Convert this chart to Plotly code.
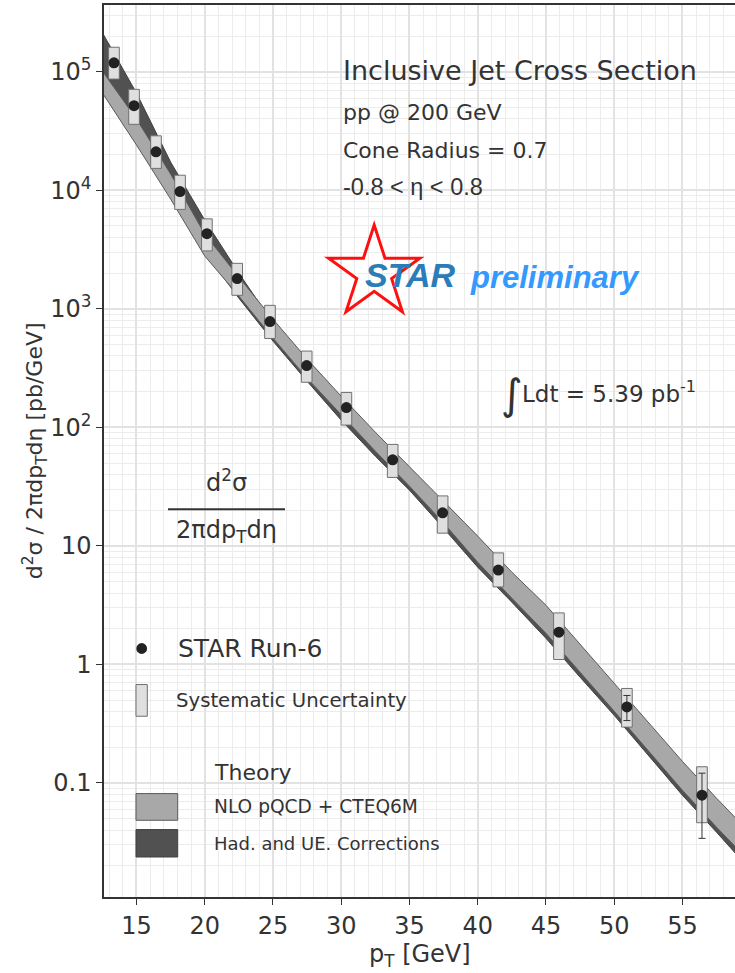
import math
import plotly.graph_objects as go

# ---------------- data ----------------
pt = [13.35, 14.82, 16.43, 18.19, 20.16, 22.38, 24.78, 27.47, 30.38, 33.77, 37.43, 41.51, 45.95, 50.93, 56.43]
xsec = [1.19e5, 5.17e4, 2.11e4, 9750, 4300, 1800, 781, 332, 147, 53.2, 19.0, 6.25, 1.87, 0.438, 0.0789]
stat_up = [2400, 1000, 420, 200, 90, 38, 17, 7.5, 3.5, 1.4, 0.55, 0.2, 0.12, 0.109, 0.042]
stat_dn = [2400, 1000, 420, 200, 90, 38, 17, 7.5, 3.5, 1.4, 0.55, 0.2, 0.12, 0.102, 0.0448]
sys_hi = [1.61e5, 7.10e4, 2.88e4, 1.34e4, 5740, 2420, 1070, 440, 197, 71.8, 26.4, 8.73, 2.72, 0.627, 0.137]
sys_lo = [8.67e4, 3.60e4, 1.53e4, 6900, 3080, 1300, 562, 240, 104.5, 37.8, 12.8, 4.51, 1.10, 0.296, 0.0462]

theory_pt = [12.6, 15, 17.5, 20, 22.5, 25, 27.5, 30, 32.5, 35, 37.5, 40, 42.5, 45, 47.5, 50, 52.5, 55, 57.5, 59.2]
nlo_hi = [9.75e4, 3.99e4, 1.37e4, 4270, 1850, 818, 377, 183, 91.0, 46.1, 23.8, 12.1, 6.00, 3.16, 1.48, 0.694, 0.325, 0.152, 0.0743, 0.0466]
nlo_lo = [6.36e4, 2.41e4, 8430, 2790, 1280, 566, 260, 127, 63.0, 31.9, 15.6, 7.28, 3.62, 1.83, 0.859, 0.403, 0.189, 0.0867, 0.0423, 0.0265]
corr_hi = [2.04e5, 6.61e4, 1.73e4, 5610, 2000, 757, 348, 170, 84.3, 42.7, 22.0, 11.2, 5.55, 2.92, 1.37, 0.643, 0.301, 0.141, 0.0687, 0.0431]
corr_lo = [6.87e4, 2.60e4, 9100, 3010, 1230, 534, 245, 115, 57.1, 29.5, 14.1, 6.61, 3.35, 1.66, 0.780, 0.372, 0.171, 0.0787, 0.0384, 0.0232]

x_ticks = [15, 20, 25, 30, 35, 40, 45, 50, 55]
y_tickvals = [0.1, 1, 10, 100, 1e3, 1e4, 1e5]
y_ticktext = ["0.1", "1", "10", "10<sup>2</sup>", "10<sup>3</sup>", "10<sup>4</sup>", "10<sup>5</sup>"]

# ---------------- layout constants ----------------
W, H = 735, 973
ML, MT, MB, MR = 104, 5, 76.3, 0
PW = W - ML - MR
PH = H - MT - MB
FONT = "DejaVu Sans"
TXT = "#333333"
BOX_HW = 0.39


def px(x):
    return (x - ML) / PW


def py(y):
    return (H - MB - y) / PH


fig = go.Figure()

# theory bands
band_x = theory_pt + theory_pt[::-1]
fig.add_trace(go.Scatter(x=band_x, y=corr_hi + corr_lo[::-1], mode="lines", fill="toself",
                         fillcolor="#515151", line=dict(color="#404040", width=1),
                         hoverinfo="skip", showlegend=False))
fig.add_trace(go.Scatter(x=band_x, y=nlo_hi + nlo_lo[::-1], mode="lines", fill="toself",
                         fillcolor="#a8a8a8", line=dict(color="#5a5a5a", width=1),
                         hoverinfo="skip", showlegend=False))

# systematic boxes
bx, by = [], []
for p, lo, hi in zip(pt, sys_lo, sys_hi):
    bx += [p - BOX_HW, p + BOX_HW, p + BOX_HW, p - BOX_HW, p - BOX_HW, None]
    by += [lo, lo, hi, hi, lo, None]
fig.add_trace(go.Scatter(x=bx, y=by, mode="lines", fill="toself", fillcolor="#dfdfdf",
                         line=dict(color="#707070", width=1), hoverinfo="skip", showlegend=False))

# data points
fig.add_trace(go.Scatter(x=pt, y=xsec, mode="markers",
                         marker=dict(size=11, color="#222222"),
                         error_y=dict(type="data", array=stat_up, arrayminus=stat_dn,
                                      color="#333333", thickness=1, width=3.5),
                         showlegend=False))

minor_y = [k * 10 ** e for e in range(-2, 6) for k in range(2, 10)]

fig.update_xaxes(range=[12.62, 58.85], tick0=0, dtick=5, ticks="outside", ticklen=6,
                 tickcolor=TXT, tickwidth=1, showline=True, linecolor=TXT, linewidth=1.5,
                 mirror=True, showgrid=True, gridcolor="#e2e2e2", gridwidth=2, zeroline=False,
                 minor=dict(dtick=1, showgrid=True, gridcolor="#ececec", gridwidth=1),
                 tickfont=dict(family=FONT, size=24, color=TXT))
fig.update_yaxes(type="log", range=[-1.962, 5.563], tickmode="array", tickvals=y_tickvals,
                 ticktext=y_ticktext, ticks="outside", ticklen=6, tickcolor=TXT, tickwidth=1,
                 showline=True, linecolor=TXT, linewidth=1.5, mirror=False,
                 showgrid=True, gridcolor="#e2e2e2", gridwidth=2, zeroline=False,
                 minor=dict(tickmode="array", tickvals=minor_y, showgrid=True,
                            gridcolor="#ececec", gridwidth=1),
                 tickfont=dict(family=FONT, size=24, color=TXT))

shapes = []
ann = []


def text(x, y, s, size, color=TXT, anchor="left", family=FONT, angle=0):
    ann.append(dict(x=px(x), y=py(y), xref="paper", yref="paper", text=s, showarrow=False,
                    xanchor=anchor, yanchor="middle", textangle=angle,
                    font=dict(family=family, size=size, color=color)))


# axis titles
text(35, 451, "d<sup>2</sup>σ / 2πdp<sub>T</sub>dη [pb/GeV]", 22, anchor="center", angle=-90)
text(419.5, 955, "p<sub>T</sub> [GeV]", 24, anchor="center")

# header texts
text(341, 70, "Inclusive Jet Cross Section", 27)
text(341, 112, "pp @ 200 GeV", 22)
text(341, 150, "Cone Radius = 0.7", 22)
text(341, 187, "-0.8 < η < 0.8", 23.5, family="Liberation Sans")

# STAR logo star
cx, cy, R = 374.2, 272.9, 48
pts = []
for i in range(10):
    ang = math.radians(90 + 36 * i)
    rr = R if i % 2 == 0 else R * 0.382
    pts.append((rr * math.cos(ang), rr * math.sin(ang)))
path = "M " + " L ".join(f"{a:.2f},{b:.2f}" for a, b in pts) + " Z"
shapes.append(dict(type="path", xref="paper", yref="paper", xsizemode="pixel", ysizemode="pixel",
                   xanchor=px(cx), yanchor=py(cy), path=path,
                   line=dict(color="#ff1010", width=3), fillcolor="rgba(0,0,0,0)", layer="above"))
text(363, 275, "<b><i>STAR</i></b>", 34, color="#2a7db9", family="Liberation Sans")
text(468, 277, "<b><i>preliminary</i></b>", 31, color="#3399ff", family="Liberation Sans")

# luminosity
text(512, 394, "∫", 42, anchor="center")
text(520, 392, "Ldt = 5.39 pb<sup>-1</sup>", 23)

# fraction label
text(226.5, 481, "d<sup>2</sup>σ", 24, anchor="center")
shapes.append(dict(type="line", xref="paper", yref="paper", x0=px(168), x1=px(285),
                   y0=py(509), y1=py(509), line=dict(color=TXT, width=2)))
text(226, 531, "2πdp<sub>T</sub>dη", 24, anchor="center")

# legend
shapes.append(dict(type="circle", xref="paper", yref="paper", xsizemode="pixel", ysizemode="pixel",
                   xanchor=px(141.7), yanchor=py(648.3), x0=-5.4, x1=5.4, y0=-5.4, y1=5.4,
                   fillcolor="#222222", line=dict(width=0), layer="above"))
text(176, 648, "STAR Run-6", 25)
shapes.append(dict(type="rect", xref="paper", yref="paper", x0=px(136), x1=px(147.3),
                   y0=py(716), y1=py(684.3), fillcolor="#dfdfdf",
                   line=dict(color="#707070", width=1), layer="above"))
text(174, 700, "Systematic Uncertainty", 19.7)
text(212, 772, "Theory", 22)
shapes.append(dict(type="rect", xref="paper", yref="paper", x0=px(136), x1=px(177.7),
                   y0=py(820), y1=py(793.3), fillcolor="#a8a8a8",
                   line=dict(color="#5a5a5a", width=1), layer="above"))
text(212, 806.5, "NLO pQCD + CTEQ6M", 18.6)
shapes.append(dict(type="rect", xref="paper", yref="paper", x0=px(136), x1=px(177.7),
                   y0=py(856.7), y1=py(829.3), fillcolor="#515151",
                   line=dict(color="#404040", width=1), layer="above"))
text(212, 843, "Had. and UE. Corrections", 18)

fig.update_layout(width=W, height=H, margin=dict(l=ML, r=MR, t=MT, b=MB, autoexpand=False),
                  paper_bgcolor="white", plot_bgcolor="white", showlegend=False,
                  shapes=shapes, annotations=ann,
                  font=dict(family=FONT, color=TXT))

fig.write_html("out.html")
